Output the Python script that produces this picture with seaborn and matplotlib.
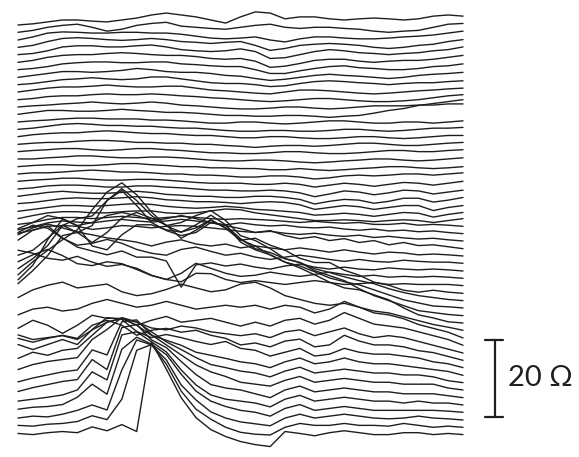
import numpy as np
import pandas as pd
import matplotlib
matplotlib.use("Agg")
import matplotlib.pyplot as plt
import seaborn as sns

# ========== Datos ==========
# 31 muestras por traza, 56 trazas (de arriba hacia abajo)
samples = list(range(31))

# nivel base de cada traza (ohm)
baselines = [107.8, 105.9, 103.9, 102.0, 100.1, 98.1, 96.2, 94.2, 92.3, 90.4,
             88.4, 86.5, 84.6, 82.6, 80.7, 78.8, 76.8, 74.9, 73.0, 71.0,
             69.1, 67.2, 65.2, 63.3, 61.4, 59.4, 57.5, 55.5, 53.6, 51.7,
             49.7, 47.8, 45.9, 43.9, 42.0, 40.1, 38.1, 36.2, 34.3, 32.3,
             30.4, 28.5, 26.5, 24.6, 22.6, 20.7, 18.8, 16.8, 14.9, 13.0,
             11.0, 9.1, 7.2, 5.2, 3.3, 1.4]

# ---------- trazas superiores ----------
top_traces = [
    [0, .3, .8, 1.3, 1.3, 1.0, .8, 1.3, 1.8, 2.6, 3.1, 2.6, 2.1, 1.3, .5, 2.1, 3.4, 3.1, 1.6, 2.1, 2.1, 1.6, 1.3, 1.6, 1.8, 1.6, 1.3, 1.6, 2.3, 2.6, 2.3],
    [0, .5, 1.3, 1.8, 2.1, 1.3, .3, .8, 1.8, 2.3, 2.6, 1.6, 1.3, 1.0, .8, 1.3, 1.8, 2.1, 1.3, 1.0, 1.3, 1.3, 1.0, .8, .3, 0, .3, .5, 1.3, 2.1, 2.3],
    [0, .8, 1.8, 2.1, 2.0, 1.8, 1.8, 2.0, 2.0, 1.8, 1.8, 1.5, 1.0, .5, .3, .5, .8, 0, -.5, .3, .8, .8, .5, .3, .3, .5, .8, 1.0, 1.3, 1.8, 2.3],
    [0, .5, 1.5, 2.3, 2.5, 2.3, 2.0, 1.8, 2.0, 2.3, 2.0, 1.5, 1.3, 1.0, 1.3, 1.5, .5, -.8, -.3, .5, .8, 1.0, .8, .5, 0, -.3, 0, .5, .8, 1.5, 2.0],
    [0, .3, 1.0, 2.0, 2.3, 2.3, 2.0, 2.0, 2.3, 2.5, 2.0, 1.3, 1.0, .8, 1.0, 1.5, .8, -1.0, -.8, 0, .8, 1.3, 1.0, .5, .3, 0, .3, .5, 1.0, 1.3, 2.0],
    [0, .5, 1.3, 1.8, 2.0, 2.0, 2.3, 2.5, 2.3, 2.0, 1.8, 1.8, 1.5, 1.0, .8, 1.0, .3, -1.3, -1.0, -.3, .5, .8, .8, .3, 0, .3, .5, .5, .8, 1.3, 1.8],
    [0, .3, .8, 1.5, 1.8, 2.0, 2.0, 1.8, 1.8, 2.0, 2.0, 1.5, 1.3, 1.0, .8, .8, 0, -1.0, -1.0, -.3, .3, .8, 1.0, .5, .3, 0, 0, .3, .8, 1.0, 1.5],
    [0, .5, 1.0, 1.5, 1.5, 1.3, 1.5, 1.8, 2.3, 2.0, 1.5, 1.3, 1.3, 1.0, .5, .3, -.3, -.8, -.5, 0, .5, .8, .5, .3, 0, -.3, 0, .5, .8, 1.0, 1.3],
    [0, .3, .8, 1.3, 1.5, 1.8, 1.5, 1.3, 1.5, 2.0, 2.0, 1.5, 1.0, .5, .3, .3, 0, -.5, -.3, .3, .8, 1.0, .8, .5, .3, 0, .3, .5, .5, .8, 1.0],
    [0, .5, 1.0, 1.3, 1.3, 1.5, 1.8, 1.5, 1.3, 1.3, 1.5, 1.5, 1.0, .5, .3, 0, -.3, -.5, 0, .5, .5, .3, 0, -.3, -.5, -.3, 0, .3, .5, .8, 1.0],
    [0, .3, .8, 1.0, 1.0, 1.3, 1.5, 1.3, 1.3, 1.5, 1.3, 1.0, .8, .5, .3, 0, -.3, -.5, -.3, 0, .3, .3, 0, -.3, -.5, -.5, -.3, 0, .5, 1.0, 1.3],
    [0, .3, .5, .8, 1.0, 1.3, 1.0, .8, 1.0, 1.3, 1.0, .5, .3, 0, -.3, -.5, -.5, -.3, 0, 0, -.3, -.5, -.3, 0, .3, .3, .3, .5, .5, .8, .8],
    [0, .5, 1.0, 1.0, .8, .8, 1.0, 1.3, 1.0, .8, .5, .5, .3, 0, -.3, -.3, -.5, -.5, -.3, -.3, -.5, -.8, -.5, -.3, .3, 1.0, 1.5, 2.3, 2.8, 3.3, 3.8],
    [0, .3, .5, .8, 1.0, 1.0, .8, .8, .8, .5, .5, .3, 0, -.3, -.3, 0, 0, -.3, -.5, -.3, 0, .3, .3, 0, -.3, -.3, 0, 0, -.3, 0, .3],
    [0, .3, .8, 1.3, 1.5, 1.3, 1.0, 1.0, .8, .8, .5, .3, .3, 0, -.3, -.5, -.5, -.3, -.3, -.5, -.5, -.3, 0, 0, -.3, -.5, -.3, 0, .3, .3, .5],
    [0, .5, .8, 1.0, 1.0, 1.3, 1.5, 1.3, 1.0, .8, .8, .5, .3, .3, 0, -.3, -.3, 0, 0, -.3, -.5, -.5, -.3, 0, 0, -.3, -.5, -.3, 0, .3, .3],
    [0, .3, .5, .5, .8, 1.0, 1.0, .8, .5, .5, .3, .3, 0, 0, -.3, -.5, -.8, -.5, -.3, -.3, -.5, -.3, 0, .3, .3, 0, -.3, -.3, 0, .3, .5],
    [0, .3, .5, .8, .8, .5, .3, .5, .8, .8, .5, .3, 0, -.3, -.3, -.5, -.5, -.3, 0, 0, -.3, -.5, -.5, -.3, 0, .3, .3, 0, 0, .3, .5],
    [0, 0, .3, .5, .8, .8, .5, .3, .3, .5, .5, .3, 0, -.3, -.5, -.5, -.3, -.3, -.5, -.8, -1.0, -.8, -.5, -.3, 0, 0, -.3, -.5, -.3, 0, .3],
    [0, .3, .5, .5, .3, .3, .5, .8, .8, .5, .3, 0, 0, -.3, -.3, -.5, -.5, -.8, -.8, -.5, -.8, -1.0, -.8, -.5, -.3, 0, 0, -.3, -.5, -.3, 0],
    [0, .3, .3, .5, .8, 1.0, .8, .5, .5, .3, 0, 0, -.3, -.3, -.5, -.8, -.8, -.5, -.5, -.8, -1.3, -1.0, -.5, -.3, -.5, -.3, 0, 0, -.3, 0, .3],
    [0, .3, .5, .8, .8, .5, .3, .3, .5, .5, .3, 0, -.3, -.5, -.5, -.5, -.8, -.8, -.5, -.8, -1.5, -1.0, -.5, -.8, -1.3, -.8, -.3, -.5, -1.0, -.5, 0],
    [0, .3, .8, 1.0, 1.0, .8, .5, .5, .8, .8, .5, .3, 0, -.3, -.3, -.5, -.5, -.3, -.5, -1.0, -2.0, -1.3, -.5, -.8, -1.5, -1.0, -.3, -.5, -1.3, -.8, -.3],
    [0, .5, 1.0, 1.3, 1.0, .8, .8, 1.0, 1.3, 1.0, .5, .3, 0, 0, -.3, -.3, 0, 0, -.3, -.8, -2.0, -1.3, -.8, -1.0, -1.8, -1.3, -.5, -.5, -1.5, -1.0, -.3],
    [0, .3, .8, 1.3, 1.5, 1.3, 1.3, 1.5, 1.8, 1.5, 1.0, .8, .5, .5, .3, 0, .3, .5, .3, -.3, -1.5, -1.0, -.5, -.8, -1.5, -1.0, -.5, -.5, -1.8, -1.0, -.5],
    [0, .5, 1.0, 1.5, 1.5, 1.3, 1.5, 1.8, 2.0, 1.8, 1.3, 1.0, .8, 1.0, 1.3, 1.0, .5, .3, 0, -.3, -1.0, -.8, -.5, -.8, -1.3, -.8, -.3, -.5, -1.5, -.8, -.3],
    [0, .8, 1.5, 1.8, 1.8, 1.5, 1.5, 1.8, 2.0, 2.0, 1.5, 1.3, 1.5, 2.0, 2.5, 2.3, 1.5, 1.0, .5, 0, -.5, -.5, -.3, -.5, -.8, -.5, -.3, -.5, -1.0, -.5, 0],
]

# ---------- trazas del medio (enredo) ----------
mid_traces = [
    [.5, 1, 1.8, 2.3, 2.3, 2, 2.3, 2.6, 2.3, 2, 2.3, 2.6, 2.3, 2, 1.8, 2, 1.8, 1.6, 1.3, 1, 1.3, 1, .8, 1, .5, .5, .8, .3, .5, .3, 0],
    [1, 1.8, 2.8, 3.3, 3, 2.8, 3.3, 3.7, 3.3, 3, 3.3, 3.7, 3.3, 2.8, 2.3, 2.8, 2.3, 2, 2.2, 1.7, 1.5, 1.7, 1.2, .9, 1.2, .7, .9, .5, .7, .3, 0],
    [2, 2.8, 3.8, 4, 3.8, 3, 3.4, 4, 3.8, 3.4, 3.8, 4, 3.8, 3.4, 3, 2.5, 2.2, 2.5, 2, 1.7, 2, 1.5, 1.2, 1.5, .9, 1.2, .8, .5, .7, .3, 0],
    [5.2, 6.8, 8.6, 7.8, 6, 6.8, 8.6, 9.4, 8.6, 7.3, 7.8, 8.6, 7.8, 6.8, 6, 5.2, 4.2, 4.7, 3.4, 2.6, 3.1, 2.1, 2.6, 1.6, 2.1, 1, 1.6, .8, 1, .5, 0],
    [5.5, 7.3, 8.3, 7.3, 6.2, 5.5, 4.7, 4.2, 3.6, 2.6, 3.6, 4.2, 3.1, 2.6, 3.1, 2.1, 2.6, 2.1, 1.6, 2.1, 1.6, 1.0, 1.6, 1.0, .5, 1.0, .8, .3, .5, .3, 0],
    [8, 9.9, 9.1, 6.5, 4.7, 5.2, 6.2, 5.2, 3.6, 2.6, 2.1, 3.6, 4.2, 3.1, 2.1, 2.6, 1.6, 1.0, 1.6, 2.1, 1.6, 1.0, .5, 1.0, .5, .3, .8, .5, .3, .3, 0],
    [8, 10.6, 11.7, 8.6, 6.2, 5.2, 4.2, 5.2, 3.6, 3.6, 2.6, -4.2, 1.6, 2.1, 1.3, 1.8, 1.0, .5, 1.3, 1.8, 1.0, .5, 1.0, .5, .3, .8, .5, .3, .5, .3, 0],
    [7.3, 6.5, 5.2, 4.7, 5.7, 4.2, 3.1, 3.6, 2.6, .8, -.3, 1.3, 3.9, 2.6, 1.3, .5, .8, 1.6, 1.0, .5, 1.0, 1.6, 1.0, .5, .8, .3, .5, .3, .5, .3, 0],
    [6.2, 8, 9.4, 7.8, 5.7, 5.2, 6.2, 5.7, 4.2, 2.6, 1.6, 1.0, 3.2, 3.1, 1.6, .8, 1.3, .8, .3, .8, 1.3, .8, .3, .5, .8, .3, .5, .3, .3, .3, 0],
    [9.9, 11.2, 14.3, 17.7, 15.8, 13.2, 15.8, 19.5, 21, 19.5, 17.7, 14.3, 16.4, 19, 16.9, 13.8, 14.3, 12.5, 11.2, 9.1, 8, 8, 6, 4.7, 2.9, 2.1, .8, .3, .8, .3, 0],
    [8.3, 10.9, 14.3, 19.5, 21.3, 22, 26, 28.6, 24.7, 20.3, 18.2, 16.9, 17.7, 20.3, 19.5, 16.1, 13.5, 12.5, 10.9, 9.9, 8.3, 7.3, 6.2, 5.2, 4.4, 3.1, 2.1, 1.3, .8, .3, 0],
    [8.6, 12, 15, 17.7, 20.3, 25.5, 30.1, 32.5, 29.4, 24.9, 21.3, 19.7, 20.8, 22.9, 20.8, 17.7, 16.1, 13.8, 11.9, 10.9, 9.4, 7.8, 6.8, 6, 4.7, 3.4, 2.1, 1.3, .5, .3, 0],
    [8.3, 11.7, 15.6, 20.8, 21.6, 23.4, 29.9, 33, 29.9, 26, 23.4, 24.2, 26, 27.3, 24.7, 20.8, 19.5, 17.4, 14.8, 13.8, 11.7, 10.4, 9.1, 7, 5.2, 3.9, 2.6, 1.3, .8, .3, 0],
    [11.2, 15, 21.6, 27, 25.2, 20, 19, 22.9, 25.5, 25.5, 24.2, 23.6, 25.5, 28, 25.5, 21, 19, 17.7, 15.8, 14.3, 12.5, 10.6, 9.1, 8.6, 7.3, 6, 3.9, 2.1, 1.3, .3, 0],
]

# ---------- trazas inferiores (montaña) ----------
low_traces = [
    [8.5, 10.5, 11.7, 12.5, 11, 11.5, 12, 10, 9, 9.5, 10.6, 12, 11, 10, 10.5, 12, 12.5, 11, 9, 8, 7, 6.5, 7, 6, 5, 4.5, 3.5, 2.5, 1.5, .8, 0],
    [6, 7.5, 8, 7, 7.5, 9, 10, 9, 8, 8.5, 9.5, 8.5, 7.5, 8, 8.5, 8, 8.5, 7.5, 8.5, 8, 6.5, 7.5, 9.5, 8, 6.5, 6, 5, 3.5, 2.5, 1.5, 0],
    [4.4, 6.5, 5.2, 3.1, 5.2, 7.8, 7, 7, 5.2, 6.5, 7.5, 6, 6.5, 7, 6, 5, 6, 5, 6.5, 7, 5.5, 6.5, 8.5, 7, 5.5, 5, 4.5, 3.5, 2.5, 1.5, 0],
    [4.7, 3.5, 4, 4.5, 3.5, 6, 8, 9, 8, 6.5, 6, 7, 6.5, 5.5, 5, 4.5, 5, 4, 5.5, 6, 4.5, 5.5, 6.5, 5, 4, 4.5, 4, 3, 2, 1, 0],
    [5.7, 4.7, 5.7, 6.5, 5.7, 9.1, 10.4, 9.1, 6.5, 7.8, 8.3, 7.3, 7.8, 6.5, 5.7, 4, 4.5, 3.5, 5, 5.5, 3.5, 4, 6.5, 5, 4, 4, 3.5, 2.5, 2, 1, 0],
    [6, 4.7, 6, 7.3, 6, 9.9, 13, 12.5, 9.4, 7.8, 8.6, 7.8, 6.8, 6, 6.8, 5, 4.5, 3, 4, 5, 3, 3.5, 5, 4, 3.5, 3.5, 3, 2.5, 1.5, 1, 0],
    [4.4, 6, 5.2, 6.5, 7, 10.4, 13.8, 14.8, 13, 10.4, 9.1, 7.8, 6, 5.2, 4.4, 3.5, 3, 2, 3.5, 4.5, 3, 3.5, 4.5, 3.5, 3, 3, 2.5, 2, 1.5, 1, 0],
    [3.4, 4.7, 5.5, 6, 6.5, 11.2, 13.8, 16.9, 15.8, 13.2, 10.6, 8.6, 6.5, 4.7, 3.9, 3, 2.5, 1.5, 3, 4, 2.5, 3, 3.5, 3, 2.5, 2.5, 2, 2, 1.5, .5, 0],
    [2.1, 3.1, 3.9, 4.7, 5.2, 10.4, 9.1, 17.7, 18.2, 14.3, 11.7, 9.1, 6.5, 4.7, 3.5, 2, 1.5, 1, 2.5, 3.5, 2, 2.5, 3, 2.5, 2, 2, 1.5, 1.5, 1.5, .5, 0],
    [1.6, 2.6, 3.4, 4.2, 4.7, 9.9, 7.3, 18.2, 19, 15, 13, 9.4, 6, 3.4, 2.5, 2, 1, 0, 2, 3, 1.5, 2, 2.5, 2, 1.5, 1.5, 1, 1, 1, .5, 0],
    [1, 1.5, 2, 2.6, 3.9, 8.6, 6.5, 18.2, 19, 16.4, 13.8, 9.1, 5.2, 2.6, 1.5, 1, .5, -.5, 1.5, 2.5, 1, 1.5, 2, 1.5, 1, 1, .5, 1, .5, .5, 0],
    [.8, 1.3, 1.5, 2, 3.9, 7.3, 4.7, 16.4, 19.5, 17.7, 15, 9.9, 5.5, 2.9, 1.5, .5, 0, -1, 1, 2, .5, 1, 1.5, 1, .5, .5, .5, .5, .5, .3, 0],
    [.5, 1, .8, 1.5, 2.5, 3.9, 2.6, 13, 20.8, 19.5, 15.6, 9.1, 5.2, 2.1, .5, -.5, -1, -1.5, .5, 1.5, .5, 1, 1.5, 1, .5, .3, .5, 1, .5, .3, 0],
    [.5, .3, .8, 1, 1.5, 3, 2, 7.3, 20, 21.5, 16.4, 9.4, 4.7, 2.1, 0, -1.3, -1.8, -2, 0, 1, .5, .5, 1, .5, .5, .3, 1, .5, 0, .3, 0],
    [.3, 0, .5, .8, .5, 2, 1, 2.6, .8, 24, 17, 9.6, 4.4, 1.3, -.5, -1.8, -2.6, -3.1, .8, .3, -.3, .5, 1, .5, 0, 0, .5, .5, 0, .3, 0],
]

# barra de escala
scale_ohm = 20
scale_bottom = 6.0

# ========== Armar tabla larga ==========
traces = top_traces + mid_traces + low_traces
rows = []
for k, (base, dev) in enumerate(zip(baselines, traces)):
    for j, d in enumerate(dev):
        rows.append((k, samples[j], base + d))
df = pd.DataFrame(rows, columns=["trace", "sample", "ohm"])

# ========== Grafico ==========
sns.set_theme(style="white")
ink = "#1e1e1e"

fig = plt.figure(figsize=(5.79, 4.57), dpi=100)
ax = fig.add_axes([0, 0, 1, 1])
sns.lineplot(data=df, x="sample", y="ohm", units="trace", estimator=None,
             color=ink, lw=1.0, ax=ax, legend=False)

ax.set_xlim(-1.2135, 37.82)
ax.set_ylim(-4.416, 114.29)
ax.axis("off")

# ---------- barra de escala ----------
bx = 32.16
ax.plot([bx, bx], [scale_bottom, scale_bottom + scale_ohm], color=ink, lw=1.6)
for yy in (scale_bottom, scale_bottom + scale_ohm):
    ax.plot([bx - 0.68, bx + 0.55], [yy, yy], color=ink, lw=1.6)
ax.text(33.0, scale_bottom + scale_ohm / 2, "20 Ω", fontsize=21,
        ha="left", va="center", color=ink, family=["Lato", "DejaVu Sans"])

fig.savefig("out.png", dpi=100)
